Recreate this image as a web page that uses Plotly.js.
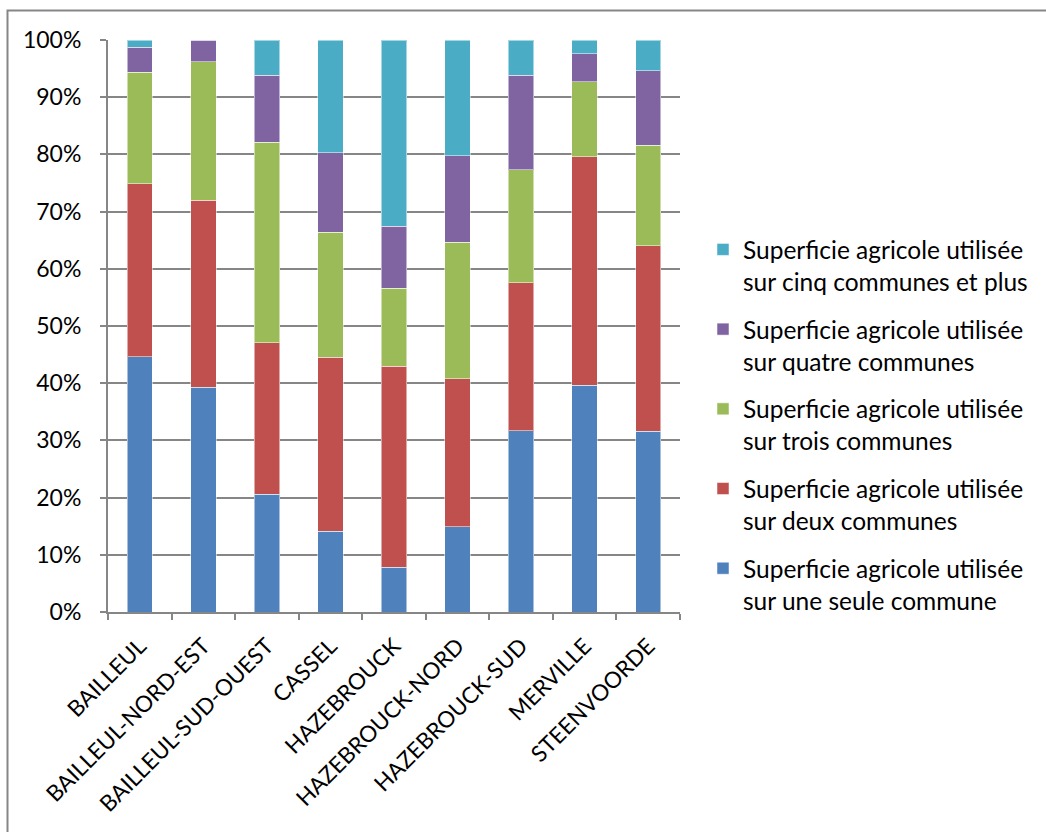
<!DOCTYPE html>
<html>
<head>
<meta charset="utf-8">
<script src="https://cdn.plot.ly/plotly-3.0.1.min.js"></script>
<style>
html,body{margin:0;padding:0;background:#fff;}
#chart{width:1046px;height:832px;}
</style>
</head>
<body>
<div id="chart"></div>
<script>
const categories = ["BAILLEUL","BAILLEUL-NORD-EST","BAILLEUL-SUD-OUEST","CASSEL","HAZEBROUCK","HAZEBROUCK-NORD","HAZEBROUCK-SUD","MERVILLE","STEENVOORDE"];
// shares in %
const uneSeule   = [44.6, 39.3, 20.6, 14.1,  7.8, 14.9, 31.7, 39.6, 31.6];
const deux       = [30.3, 32.7, 26.5, 30.4, 35.2, 25.9, 25.9, 40.0, 32.4];
const trois      = [19.5, 24.2, 35.0, 21.9, 13.6, 23.8, 19.7, 13.1, 17.6];
const quatre     = [ 4.3,  3.8, 11.7, 13.9, 10.8, 15.2, 16.5,  4.9, 13.0];
const cinqEtPlus = [ 1.3,  0.0,  6.2, 19.7, 32.6, 20.2,  6.2,  2.4,  5.4];
const seriesNames = [
  "Superficie agricole utilisée<br>sur une seule commune",
  "Superficie agricole utilisée<br>sur deux communes",
  "Superficie agricole utilisée<br>sur trois communes",
  "Superficie agricole utilisée<br>sur quatre communes",
  "Superficie agricole utilisée<br>sur cinq communes et plus"
];
const yTickVals = [0,10,20,30,40,50,60,70,80,90,100];
const yTickText = ["0%","10%","20%","30%","40%","50%","60%","70%","80%","90%","100%"];

const colors = ["#4F81BD","#C0504D","#9BBB59","#8064A2","#4BACC6"];
const values = [uneSeule, deux, trois, quatre, cinqEtPlus];
const FONT = "Lato, sans-serif";

const data = values.map((v,i)=>({
  type:"bar",
  x:categories,
  y:v,
  name:seriesNames[i],
  legendgroup:"g"+i,
  legendrank:100*(values.length-i),
  marker:{color:colors[i], line:{color:"rgba(255,255,255,0.5)", width:1}},
  hoverinfo:"x+y+name"
}));

// plot area in pixels: x 108..680, y 40..612
const L=108, R=680, T=40, B=612;
const pw=R-L, ph=B-T;
const px = x => (x-L)/pw;
const py = y => (B-y)/ph;

const layout = {
  width:1046, height:832,
  margin:{l:L, r:1046-R, t:T, b:832-B, pad:0},
  paper_bgcolor:"#ffffff",
  plot_bgcolor:"#ffffff",
  barmode:"stack",
  bargap:0.6,
  font:{family:FONT, size:23, color:"#000"},
  showlegend:true,
  legend:{
    x:px(703), xanchor:"left",
    y:py(425), yanchor:"middle",
    traceorder:"grouped",
    tracegroupgap:13,
    valign:"top",
    font:{family:FONT, size:24.5, color:"#000"},
    bgcolor:"rgba(0,0,0,0)",
    itemclick:false
  },
  xaxis:{
    type:"category",
    tickangle:-45,
    ticks:"outside",
    tickson:"boundaries",
    ticklen:6,
    tickcolor:"#868686",
    tickwidth:2,
    showline:true,
    linecolor:"#868686",
    linewidth:2,
    showgrid:false,
    ticklabelstandoff:10,
    tickfont:{family:FONT, size:22.5, color:"#000"},
    fixedrange:true
  },
  yaxis:{
    range:[0,100],
    tickvals:yTickVals,
    ticktext:yTickText,
    ticks:"outside",
    ticklen:6,
    tickcolor:"#868686",
    tickwidth:2,
    showline:true,
    linecolor:"#868686",
    linewidth:2,
    showgrid:true,
    gridcolor:"#868686",
    gridwidth:2,
    zeroline:false,
    ticklabelstandoff:14,
    tickfont:{family:FONT, size:23, color:"#000"},
    fixedrange:true
  },
  shapes:[{
    type:"rect", xref:"paper", yref:"paper",
    x0:px(7.5), x1:px(1100), y0:py(10.5), y1:py(900),
    line:{color:"#868686", width:2}, fillcolor:"rgba(0,0,0,0)", layer:"below"
  }]
};

Plotly.newPlot("chart", data, layout, {displayModeBar:false, staticPlot:false});
</script>
</body>
</html>
